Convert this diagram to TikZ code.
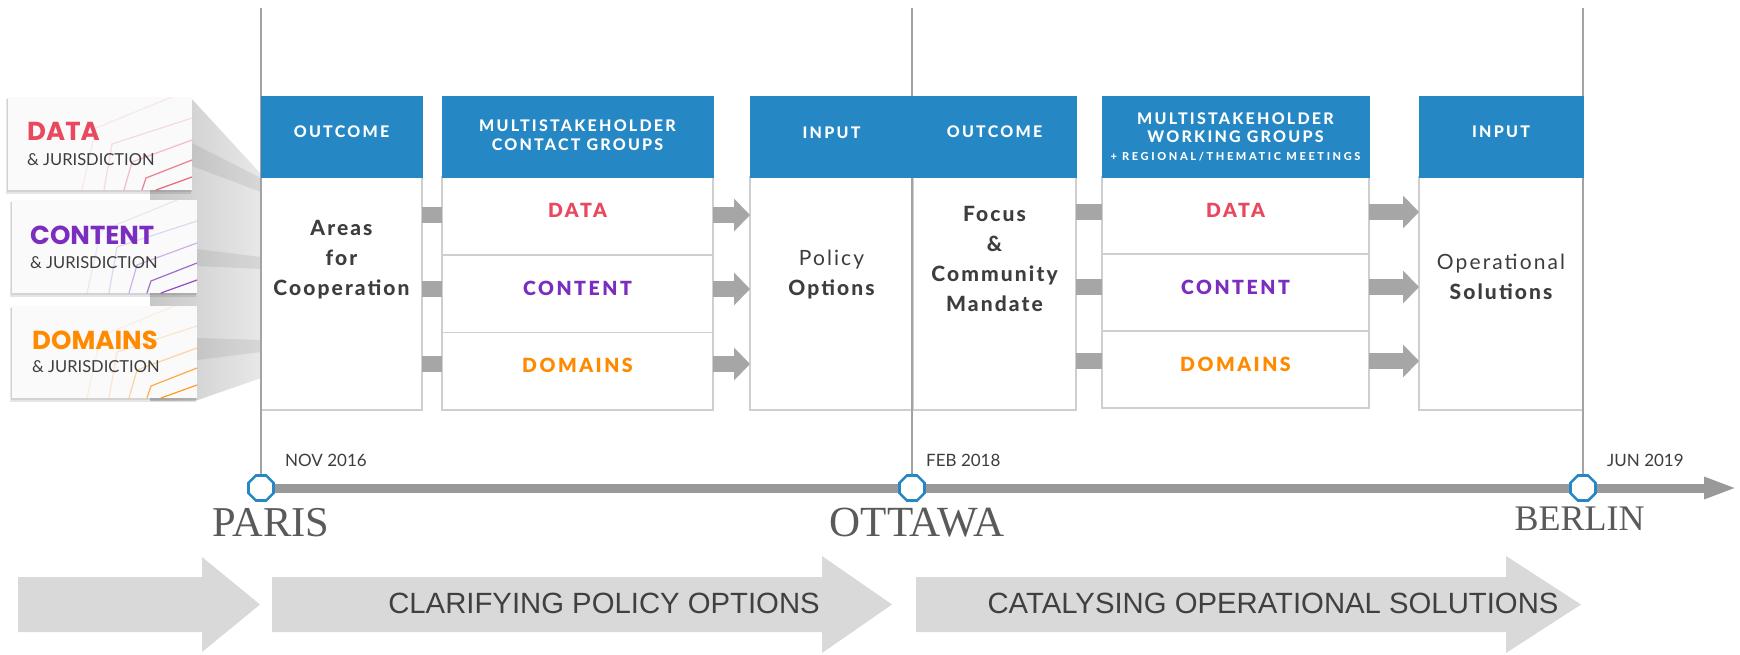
\documentclass[tikz,border=0pt]{standalone}
\usepackage{fontspec}
\usetikzlibrary{arrows.meta,shapes.geometric}
\setmainfont{Lato}
\newfontfamily\capsfont{Lato Heavy}[LetterSpace=14]
\newfontfamily\labelfont{Lato Black}[LetterSpace=13]
\newfontfamily\tinycapsfont{Lato Heavy}[LetterSpace=24]
\newfontfamily\bodyfont{Lato}[LetterSpace=10]
\newfontfamily\bodyheavy{Lato Heavy}[LetterSpace=10]
\newfontfamily\cardfont{Poppins}
\newfontfamily\cityfont{Liberation Serif}
\newfontfamily\phasefont{Liberation Sans}

\definecolor{hdrblue}{HTML}{2588C5}
\definecolor{boxline}{HTML}{CFCFCF}
\definecolor{bargray}{HTML}{A6A6A6}
\definecolor{axisgray}{HTML}{999999}
\definecolor{vgray}{HTML}{A3A3A3}
\definecolor{txtgray}{HTML}{3D3D3D}
\definecolor{datared}{HTML}{E8495F}
\definecolor{contpurple}{HTML}{7A2DBE}
\definecolor{domorange}{HTML}{FF8A00}
\definecolor{phasegray}{HTML}{D9D9D9}
\definecolor{phasetxt}{HTML}{404040}
\definecolor{citygray}{HTML}{5A5A5A}
\definecolor{cardbg}{HTML}{FAFAFA}

\begin{document}
\begin{tikzpicture}[x=1pt,y=-1pt,
  header/.style={fill=hdrblue,draw=hdrblue,line width=0.8pt,anchor=north west,inner sep=0pt,outer sep=0pt},
  cell/.style={fill=white,draw=boxline,line width=1.6pt,anchor=north west,inner sep=0pt,outer sep=0pt},
  hdrtext/.style={text=white,font=\capsfont\fontsize{16}{18.5}\selectfont,align=center,inner sep=0pt},
  hdrsmall/.style={text=white,font=\tinycapsfont\fontsize{11}{12}\selectfont,inner sep=0pt},
  rowlabel/.style={font=\labelfont\fontsize{19.5}{22}\selectfont,inner sep=0pt},
  bodybold/.style={text=txtgray,font=\bodyheavy\fontsize{21}{30}\selectfont,align=center,inner sep=0pt},
  bodymixed/.style={text=txtgray,font=\bodyfont\fontsize{21}{30}\selectfont,align=center,inner sep=0pt},
  link/.style={draw=bargray,line width=16pt},
  linkarrow/.style={draw=bargray,line width=16pt,-{Triangle[length=16pt,width=32pt]}},
  vline/.style={draw=vgray,line width=1.3pt},
  axis/.style={draw=axisgray,line width=9pt,-{Triangle[length=33pt,width=20pt]}},
  milestone/.style={regular polygon,regular polygon sides=8,minimum size=27pt,draw=hdrblue,line width=2.6pt,fill=white,inner sep=0pt},
  card/.style={fill=cardbg,anchor=north west,inner sep=0pt,outer sep=0pt},
  cardhead/.style={font=\cardfont\bfseries\fontsize{26}{28}\selectfont,anchor=west,inner sep=0pt},
  cardsub/.style={font=\fontsize{16.5}{18}\selectfont,text=txtgray,anchor=west,inner sep=0pt},
  datelabel/.style={font=\fontsize{17}{18}\selectfont,text=txtgray,anchor=west,inner sep=0pt},
  city/.style={font=\cityfont,text=citygray,anchor=base,inner sep=0pt},
  phase/.style={fill=phasegray},
  phasetext/.style={font=\phasefont\fontsize{29.3}{30}\selectfont,text=phasetxt,inner sep=0pt},
  trace/.style={line width=1.2pt,line cap=round,line join=round},
]
\fill[white] (0,0) rectangle (1740,654);
\useasboundingbox (0,0) rectangle (1740,654);

% ---------- funnel from the three topic cards into the timeline ----------
\shade[left color=black!22,right color=black!9]
  (150,97) -- (190,97) -- (261,174) -- (261,378) -- (195,401) -- (150,401) -- cycle;
\fill[black,opacity=0.07] (192,143) -- (261,178) -- (261,192) -- (192,166) -- cycle;
\fill[black,opacity=0.07] (197,249) -- (261,257) -- (261,269) -- (197,266) -- cycle;
\fill[black,opacity=0.07] (197,338) -- (261,340) -- (261,352) -- (197,360) -- cycle;

% ---------- topic cards ----------
\foreach \xx/\yy/\ww/\hh in {8/97/184/93, 12/200/185/93, 12/306/185/92}{
  \fill[black,opacity=0.10] (\xx-2,\yy+2) rectangle (\xx+\ww-1,\yy+\hh+4);
  \fill[black,opacity=0.08] (\xx-1,\yy+1) rectangle (\xx+\ww,\yy+\hh+2);
}
\node[card,minimum width=184pt,minimum height=93pt] (card1) at (8,97) {};
\node[card,minimum width=185pt,minimum height=93pt] (card2) at (12,200) {};
\node[card,minimum width=185pt,minimum height=92pt] (card3) at (12,306) {};

\foreach \c/\col in {card1/datared,card2/contpurple,card3/domorange}{
  \begin{scope}
    \clip (\c.south west) rectangle (\c.north east);
    \draw[trace,\col,opacity=0.85] ([shift={(-36,0)}]\c.south east) -- ([shift={(0,-13)}]\c.south east);
    \draw[trace,\col,opacity=0.7] ([shift={(-50,0)}]\c.south east) -- ([shift={(-46,-12)}]\c.south east) -- ([shift={(0,-30)}]\c.south east);
    \draw[trace,\col,opacity=0.35] ([shift={(-68,0)}]\c.south east) -- ([shift={(-60,-28)}]\c.south east) -- ([shift={(0,-50)}]\c.south east);
    \draw[trace,\col,opacity=0.18] ([shift={(-88,0)}]\c.south east) -- ([shift={(-80,-46)}]\c.south east) -- ([shift={(0,-72)}]\c.south east);
    \draw[trace,\col,opacity=0.1] ([shift={(-110,0)}]\c.south east) -- ([shift={(-96,-62)}]\c.south east) -- ([shift={(-20,-93)}]\c.south east);
  \end{scope}
}

\node[cardhead,text=datared] (card1h) at (27,131) {DATA};
\node[cardsub] (card1s) at (27,160) {\& JURISDICTION};
\node[cardhead,text=contpurple] (card2h) at (30,235) {CONTENT};
\node[cardsub] (card2s) at (30,263) {\& JURISDICTION};
\node[cardhead,text=domorange] (card3h) at (32,340) {DOMAINS};
\node[cardsub] (card3s) at (32,367) {\& JURISDICTION};

% ---------- box bodies ----------
\node[cell,minimum width=161pt,minimum height=233pt] (out1) at (261,177) {};
\node[cell,minimum width=271pt,minimum height=77.7pt] (ms1a) at (442,177) {};
\node[cell,minimum width=271pt,minimum height=77.7pt] (ms1b) at (442,254.7) {};
\node[cell,minimum width=271pt,minimum height=77.7pt] (ms1c) at (442,332.3) {};
\node[cell,minimum width=163pt,minimum height=233pt] (in1) at (750,177) {};
\node[cell,minimum width=163pt,minimum height=233pt] (out2) at (913,177) {};
\node[cell,minimum width=267pt,minimum height=77pt] (ms2a) at (1102,177) {};
\node[cell,minimum width=267pt,minimum height=77pt] (ms2b) at (1102,254) {};
\node[cell,minimum width=267pt,minimum height=77pt] (ms2c) at (1102,331) {};
\node[cell,minimum width=164pt,minimum height=233pt] (in2) at (1419,177) {};

% ---------- timeline ----------
\coordinate (pc) at (261,488);
\coordinate (oc) at (912,488);
\coordinate (bc) at (1583,488);
\coordinate (axisend) at (1737,488);
\coordinate (ptop) at (261,8);
\coordinate (otop) at (912,8);
\coordinate (btop) at (1583,8);
\draw[axis] (pc) -- (axisend);
\node[milestone] (paris) at (pc) {};
\node[milestone] (ottawa) at (oc) {};
\node[milestone] (berlin) at (bc) {};
\draw[vline] (ptop) -- (paris);
\draw[vline] (otop) -- (ottawa);
\draw[vline] (btop) -- (berlin);

% ---------- headers ----------
\node[header,minimum width=161pt,minimum height=81pt] (out1h) at (261,96) {};
\node[header,minimum width=271pt,minimum height=81pt] (ms1h) at (442,96) {};
\node[header,minimum width=163pt,minimum height=81pt] (in1h) at (750,96) {};
\node[header,minimum width=163pt,minimum height=81pt] (out2h) at (913,96) {};
\node[header,minimum width=267pt,minimum height=81pt] (ms2h) at (1102,96) {};
\node[header,minimum width=164pt,minimum height=81pt] (in2h) at (1419,96) {};

\node[hdrtext] (out1t) at (341.5,132) {OUTCOME};
\node[hdrtext] (ms1t) at (577.5,135) {MULTISTAKEHOLDER\\CONTACT GROUPS};
\node[hdrtext] (in1t) at (831.5,133) {INPUT};
\node[hdrtext] (out2t) at (994.5,132) {OUTCOME};
\node[hdrtext] (ms2t) at (1235.5,127.5) {MULTISTAKEHOLDER\\WORKING GROUPS};
\node[hdrsmall] (ms2s) at (1235.5,157) {+ REGIONAL/THEMATIC MEETINGS};
\node[hdrtext] (in2t) at (1501,132) {INPUT};

% ---------- box contents ----------
\node[bodybold] (out1b) at (341.5,260) {Areas\\for\\Cooperation};
\node[bodymixed] (in1b) at (831.5,275) {Policy\\{\bodyheavy Options}};
\node[bodybold] (out2b) at (994.5,258.5) {Focus\\\&\\Community\\Mandate};
\node[bodymixed] (in2b) at (1501,276.5) {Operational\\{\bodyheavy Solutions}};

\node[rowlabel,text=datared] (ms1al) at ([yshift=5.5pt]ms1a.center) {DATA};
\node[rowlabel,text=contpurple] (ms1bl) at ([yshift=5.5pt]ms1b.center) {CONTENT};
\node[rowlabel,text=domorange] (ms1cl) at ([yshift=5.5pt]ms1c.center) {DOMAINS};
\node[rowlabel,text=datared] (ms2al) at ([yshift=5.5pt]ms2a.center) {DATA};
\node[rowlabel,text=contpurple] (ms2bl) at ([yshift=5.5pt]ms2b.center) {CONTENT};
\node[rowlabel,text=domorange] (ms2cl) at ([yshift=5.5pt]ms2c.center) {DOMAINS};

% ---------- links between boxes ----------
\coordinate (la) at (0,215);
\coordinate (lb) at (0,289);
\coordinate (lc) at (0,364);
\coordinate (ma) at (0,212);
\coordinate (mb) at (0,287);
\coordinate (mc) at (0,361);
\foreach \l in {la,lb,lc}{
  \draw[link] (out1.east |- \l) -- (ms1a.west |- \l);
  \draw[linkarrow] (ms1a.east |- \l) -- (in1.west |- \l);
}
\foreach \l in {ma,mb,mc}{
  \draw[link] (out2.east |- \l) -- (ms2a.west |- \l);
  \draw[linkarrow] (ms2a.east |- \l) -- (in2.west |- \l);
}

% ---------- dates and cities ----------
\node[datelabel] (d1) at (285,460) {NOV 2016};
\node[datelabel] (d2) at (926,460) {FEB 2018};
\node[datelabel] (d3) at (1607,460) {JUN 2019};
\node[city,font=\cityfont\fontsize{42.5}{44}\selectfont] (c1) at (271,536) {PARIS};
\node[city,font=\cityfont\fontsize{43}{44}\selectfont] (c2) at (917,536) {OTTAWA};
\node[city,font=\cityfont\fontsize{36}{38}\selectfont] (c3) at (1579.5,530) {BERLIN};

% ---------- phase arrows ----------
\fill[phase] (18,577) -- (202,577) -- (202,557) -- (260,604.5) -- (202,652) -- (202,632) -- (18,632) -- cycle;
\fill[phase] (272,577) -- (822,577) -- (822,556) -- (892,604.5) -- (822,653) -- (822,632) -- (272,632) -- cycle;
\fill[phase] (916,577) -- (1506,577) -- (1506,556) -- (1581,604.5) -- (1506,653) -- (1506,632) -- (916,632) -- cycle;
\node[phasetext] (p1) at (604,603) {CLARIFYING POLICY OPTIONS};
\node[phasetext] (p2) at (1273,603) {CATALYSING OPERATIONAL SOLUTIONS};
\end{tikzpicture}
\end{document}
